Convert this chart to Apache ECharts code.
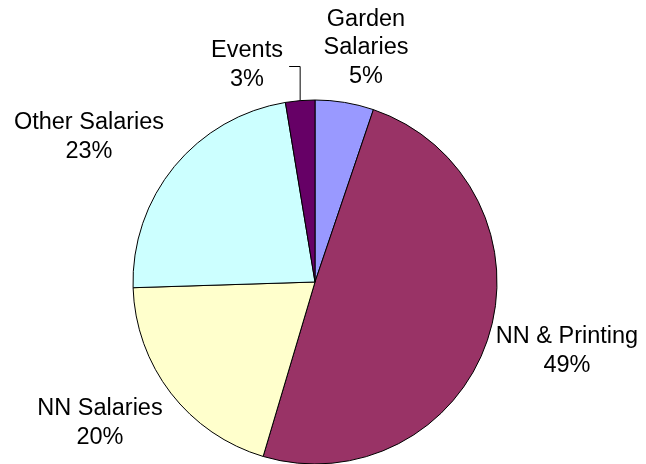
<!DOCTYPE html>
<html><head><meta charset="utf-8">
<script src="https://cdn.jsdelivr.net/npm/echarts@6/dist/echarts.min.js"></script>
<style>html,body{margin:0;padding:0;background:#fff}#c{width:646px;height:464px}</style>
</head><body><div id="c"></div>
<script>
const categories = ['Garden\nSalaries', 'NN & Printing', 'NN Salaries', 'Other Salaries', 'Events'];
const values = [5.2, 49.4, 19.9, 22.9, 2.6];
const colors = ['#9999FF', '#993366', '#FFFFCC', '#CCFFFF', '#660066'];
// label placement (style only)
const labelPos = [[366, 48], [567, 351], [100, 423], [89, 137], [247, 65]];
const showLine = [false, false, false, false, true];

const chart = echarts.init(document.getElementById('c'), null, {renderer: 'canvas'});
chart.setOption({
  animation: false,
  series: [{
    type: 'pie',
    center: [315, 282],
    radius: 182,
    startAngle: 90,
    clockwise: true,
    percentPrecision: 0,
    data: categories.map((n, i) => ({
      name: n, value: values[i],
      itemStyle: {color: colors[i]},
      labelLine: {show: showLine[i]}
    })),
    itemStyle: {borderColor: '#000', borderWidth: 1},
    label: {
      show: true, position: 'outside',
      formatter: '{b}\n{d}%',
      fontFamily: 'Liberation Sans, Arial, sans-serif',
      fontSize: 23.5, lineHeight: 28.5, color: '#000', align: 'center',
      overflow: 'none', width: 300
    },
    labelLine: {show: true, length: 10, length2: 5, lineStyle: {color: '#000', width: 1}},
    emphasis: {disabled: true},
    labelLayout: function (p) {
      const pos = labelPos[p.dataIndex];
      const r = {x: pos[0], y: pos[1], align: 'center', verticalAlign: 'middle'};
      if (showLine[p.dataIndex] && p.labelLinePoints) {
        const a = p.labelLinePoints[0];
        r.labelLinePoints = [[a[0], a[1]], [a[0], 66.5], [a[0] - 11, 66.5]];
      }
      return r;
    }
  }]
});
</script></body></html>
